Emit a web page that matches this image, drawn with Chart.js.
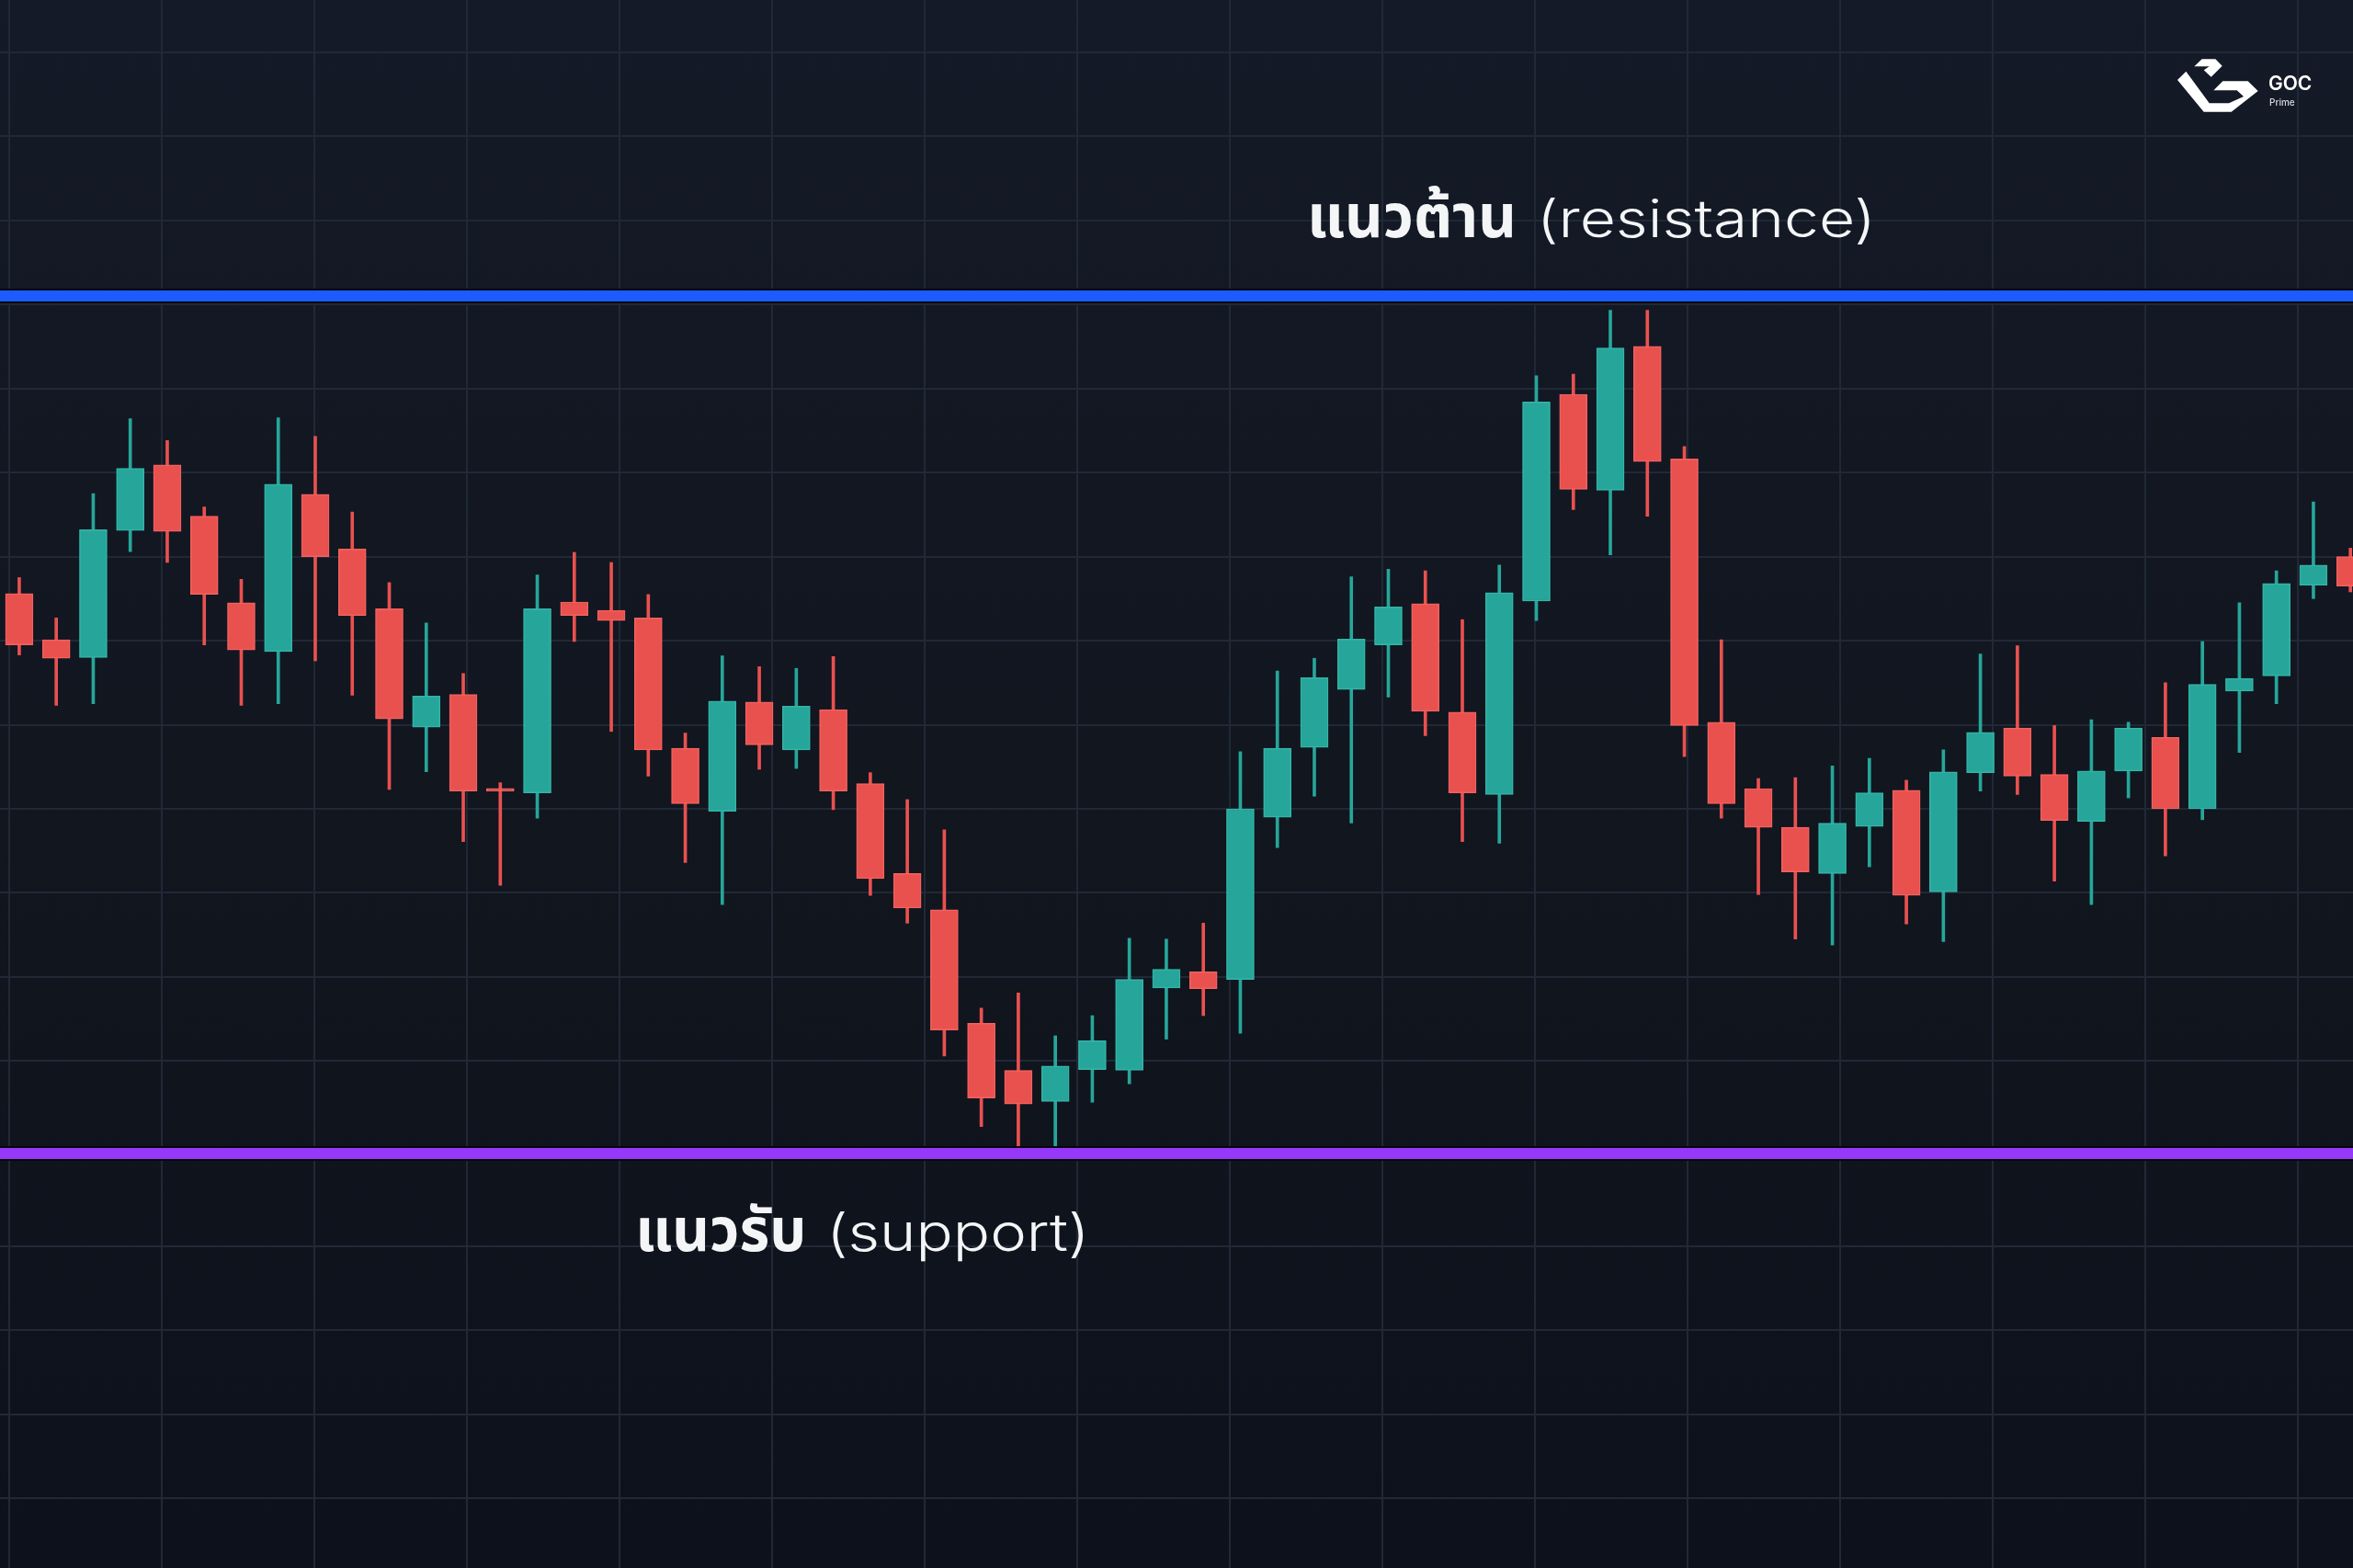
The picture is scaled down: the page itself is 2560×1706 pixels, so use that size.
<!DOCTYPE html>
<html>
<head>
<meta charset="utf-8">
<script src="https://cdn.jsdelivr.net/npm/chart.js@4.4.1/dist/chart.umd.min.js"></script>
<style>
html, body { margin: 0; padding: 0; background: #11161f; overflow: hidden; }
#wrap { position: relative; width: 2560px; height: 1706px; }
</style>
</head>
<body>
<div id="wrap"><canvas id="chart"></canvas></div>
<script>
// ............ data ............
const opens  = [165.6,160.1,158.0,173.1,180.9,174.8,164.5,158.7,177.4,170.9,163.8,149.7,153.6,142.4,141.9,164.6,
                163.6,162.7,147.2,139.7,152.7,147.0,151.8,143.0,132.3,128.0,114.5,108.9,105.2,109.0,108.9,118.7,
                120.6,119.7,139.0,147.3,154.2,159.5,164.4,151.5,141.7,164.7,189.3,177.9,195.0,181.6,150.3,142.4,
                137.8,132.3,137.9,142.2,130.1,144.3,149.6,144.1,138.5,144.5,148.5,140.0,154.0,155.8,166.6,170.0];
const highs  = [167.5,162.7,177.5,186.4,183.8,175.9,167.3,186.5,184.3,175.3,166.9,162.1,156.1,143.1,167.8,170.5,
                169.3,165.5,149.0,158.2,156.9,156.7,158.1,144.3,141.1,137.5,116.3,118.1,113.0,115.4,124.6,124.5,
                126.4,146.8,156.4,157.9,167.6,168.5,168.3,162.5,169.0,191.5,191.7,199.3,199.3,183.1,160.1,143.6,
                143.7,145.1,146.0,143.4,147.0,158.4,159.4,149.9,150.6,150.3,155.0,159.9,164.5,168.3,176.5,171.0];
const lows   = [158.3,152.3,152.5,170.6,169.3,159.5,152.3,152.5,157.6,153.5,142.3,144.4,136.1,130.9,138.9,159.9,
                149.2,143.9,133.6,128.6,144.7,144.8,139.9,129.7,126.4,110.6,102.2, 99.1, 99.8,105.1,107.3,112.6,
                115.4,113.3,135.4,141.5,138.3,153.3,148.7,136.1,135.9,162.4,175.6,170.2,174.8,146.2,138.9,129.8,
                124.5,123.8,133.1,126.3,124.2,142.1,141.7,131.4,128.6,141.3,134.4,138.7,146.7,152.5,165.0,165.8];
const closes = [159.5,157.9,173.2,180.5,173.0,165.5,158.9,178.6,170.0,163.0,150.7,153.4,142.1,142.1,163.8,163.0,
                162.4,147.0,140.6,152.8,147.6,152.2,142.1,131.7,128.2,113.7,105.6,104.9,109.4,112.4,119.7,120.9,
                118.6,140.0,147.2,155.6,160.2,164.0,151.6,141.9,165.7,188.4,178.0,194.8,181.3,149.9,140.6,137.8,
                132.5,138.3,141.9,129.7,144.4,149.1,143.9,138.6,144.5,149.6,140.0,154.8,155.5,166.8,169.0,166.5];

const resistanceLevel = 201;
const supportLevel = 99;

// grid lines (value ticks, no labels shown)
const yGridTicks = [58, 68, 78, 88, 99, 110, 120, 130, 140, 150, 160, 170, 180, 190, 200, 210, 220, 230];
const xGridTicks = [0, 1, 2, 3, 4, 5, 6, 7, 8, 9, 10, 11, 12, 13, 14, 15];

const resistanceText = ['แนวต้าน', '(resistance)'];
const supportText = ['แนวรับ', '(support)'];

// ............ colours ............
const UP = '#26a69a', DOWN = '#e9514f';
const UP_EDGE = '#34b5a8', DOWN_EDGE = '#f2625f';
const X_MIN = -0.52, X_MAX = 63.07;

const bodies = opens.map((o, i) => ({ x: i, y: [o, closes[i]] }));
const wicks  = opens.map((o, i) => ({ x: i, y: [lows[i], highs[i]] }));
const isUp   = opens.map((o, i) => closes[i] >= o);

const levelLine = (v) => [{ x: X_MIN, y: v }, { x: X_MAX, y: v }];

// ............ fond degrade ............
const fond = {
  id: 'fond',
  beforeDraw(chart) {
    const c = chart.ctx;
    const g = c.createLinearGradient(0, 0, 0, chart.height);
    g.addColorStop(0, '#141a27');
    g.addColorStop(0.5, '#11161f');
    g.addColorStop(1, '#0d111b');
    c.save();
    c.fillStyle = g;
    c.fillRect(0, 0, chart.width, chart.height);
    c.restore();
  }
};

// ............ textes + logo ............
// texte etire a la largeur voulue
function fitText(c, txt, x, base, font, width) {
  c.font = font;
  const w0 = c.measureText(txt).width;
  c.save();
  c.translate(x, base);
  c.scale(width / w0, 1);
  c.fillText(txt, 0, 0);
  c.restore();
}

function drawLabel(c, parts, x, base, wThai, wEng) {
  c.fillStyle = '#f4f5f7';
  c.textBaseline = 'alphabetic';
  c.textAlign = 'left';
  fitText(c, parts[0], x, base, 'bold 66px "Noto Sans Thai", "Noto Sans Thai UI", "Noto Sans", sans-serif', wThai);
  fitText(c, parts[1], x + wThai + 22, base, '300 56px Inter, Roboto, "Noto Sans", sans-serif', wEng);
}

function drawLogo(c, ox, oy) {
  const s = 1 / 3;
  const top = [[97,52],[122,28],[166,28],[188,50],[152,86],[128,64],[146,52]];
  const main = [[70,68],[42,96],[128,200],[218,200],[305,132],[272,100],[190,100],[160,130],
                [236,130],[258,150],[210,172],[146,172]];
  c.fillStyle = '#ffffff';
  [top, main].forEach(poly => {
    c.beginPath();
    poly.forEach((p, k) => {
      const px = ox + p[0] * s, py = oy + p[1] * s;
      if (k === 0) c.moveTo(px, py); else c.lineTo(px, py);
    });
    c.closePath();
    c.fill();
  });
  c.font = '600 21px Inter, Roboto, sans-serif';
  c.fillText('GOC', ox + 113, oy + 43);
  c.font = '500 10px Inter, Roboto, sans-serif';
  c.fillStyle = '#d8dbe0';
  c.fillText('Prime', ox + 114, oy + 60);
}

const decor = {
  id: 'decor',
  afterDraw(chart) {
    const c = chart.ctx;
    const xs = chart.scales.x, ys = chart.scales.y;
    c.save();
    drawLabel(c, resistanceText, xs.getPixelForValue(34.8), ys.getPixelForValue(resistanceLevel) - 64, 228, 369);
    drawLabel(c, supportText, xs.getPixelForValue(16.65), ys.getPixelForValue(supportLevel) + 106, 186, 286);
    drawLogo(c, chart.width - 205, 55);
    c.restore();
  }
};

const ctx = document.getElementById('chart').getContext('2d');
const chart = new Chart(ctx, {
  data: {
    datasets: [
      {
        type: 'bar', label: 'wick', data: wicks, order: 4, grouped: false,
        barThickness: 3,
        backgroundColor: isUp.map(u => u ? UP : DOWN)
      },
      {
        type: 'bar', label: 'body', data: bodies, order: 3, grouped: false,
        barThickness: 30, minBarLength: 3,
        backgroundColor: isUp.map(u => u ? UP : DOWN),
        borderColor: isUp.map(u => u ? UP_EDGE : DOWN_EDGE),
        borderWidth: 1.5, borderSkipped: false
      },
      { type: 'line', label: 'r-edge', data: levelLine(resistanceLevel), order: 2,
        borderColor: '#04060d', borderWidth: 16, pointRadius: 0 },
      { type: 'line', label: 's-edge', data: levelLine(supportLevel), order: 2,
        borderColor: '#07040d', borderWidth: 16, pointRadius: 0 },
      { type: 'line', label: 'resistance', data: levelLine(resistanceLevel), order: 1,
        borderColor: '#1c5cff', borderWidth: 12, pointRadius: 0 },
      { type: 'line', label: 'support', data: levelLine(supportLevel), order: 1,
        borderColor: '#9638f7', borderWidth: 12, pointRadius: 0 }
    ]
  },
  options: {
    responsive: true,
    maintainAspectRatio: false,
    animation: false,
    layout: { padding: 0 },
    plugins: { legend: { display: false }, tooltip: { enabled: false } },
    scales: {
      x: {
        type: 'linear', min: X_MIN, max: X_MAX, display: true, offset: false,
        grid: { display: false, drawTicks: false, offset: false },
        ticks: { display: false }, border: { display: false }
      },
      xg: {
        type: 'linear', min: -0.06, max: 15.36, position: 'bottom', display: true, offset: false,
        afterBuildTicks: (axis) => { axis.ticks = xGridTicks.map(v => ({ value: v })); },
        grid: { color: '#212836', lineWidth: 2, drawTicks: false },
        ticks: { display: false }, border: { display: false }
      },
      y: {
        min: 49.7, max: 236.2, display: true,
        afterBuildTicks: (axis) => { axis.ticks = yGridTicks.map(v => ({ value: v })); },
        grid: { color: '#212836', lineWidth: 2, drawTicks: false },
        ticks: { display: false }, border: { display: false }
      }
    }
  },
  plugins: [fond, decor]
});
</script>
</body>
</html>
